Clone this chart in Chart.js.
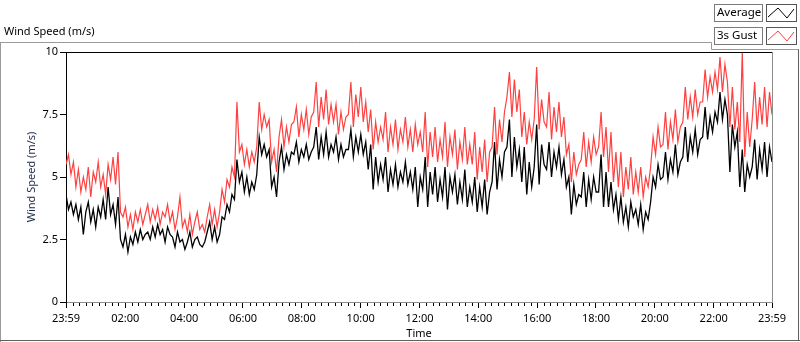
<!DOCTYPE html>
<html>
<head>
<meta charset="utf-8">
<title>Wind Speed</title>
<script src="https://cdn.jsdelivr.net/npm/chart.js@4.4.1/dist/chart.umd.min.js"></script>
<style>
    html, body { margin: 0; padding: 0; background: #fff; }
    canvas { display: block; }
</style>
</head>
<body>
<canvas id="windChart" width="800" height="342"></canvas>
<script>
// =========================
// DATA (one sample every ~5 min)
// =========================
const gustSpeed = [
    5.5, 5.9, 5.1, 5.6, 4.6, 5.3, 4.4, 5.0, 4.5, 5.4, 4.2, 5.2, 4.8, 5.6, 4.6, 5.1, 4.3, 5.5, 4.9, 5.8, 4.7,
    6.0, 3.6,
    3.4, 3.8, 3.0, 3.5, 2.9, 3.6, 3.2, 3.7, 3.1, 3.5,
    3.9, 3.2, 3.7, 3.3, 3.8, 3.1, 3.6, 3.4, 3.9, 3.2,
    3.6, 2.9, 3.4, 4.2, 3.0, 3.3, 2.8, 3.5, 2.7, 3.2, 3.6, 2.9, 3.1, 2.8,
    3.4, 3.9, 3.1, 3.7, 3.0, 3.6,
    4.5, 4.0, 4.9, 4.6, 5.4, 5.0, 8.0, 6.0,
    6.3, 5.5, 6.1, 5.4, 6.0, 5.6, 6.2,
    8.0, 6.9, 7.5, 7.0, 7.3,
    5.6, 6.1, 5.2,
    6.6, 7.3, 6.2, 7.0, 6.4, 7.1,
    7.2, 7.8, 6.6, 7.5, 6.9, 7.7, 6.7, 7.4,
    7.6, 8.8, 7.0, 8.2, 7.3, 8.5, 7.1, 7.9,
    7.2, 7.9, 6.7, 7.6, 6.9, 7.4,
    7.5, 8.8, 7.0, 8.3, 7.4, 8.6, 7.2, 8.0,
    6.8, 7.7, 6.1, 7.2, 6.4, 7.0,
    6.5, 7.6, 6.0, 7.0, 6.3, 7.3, 6.1, 6.9,
    6.4, 7.4, 6.2, 6.9, 6.0, 7.1, 6.3, 6.8,
    6.0, 7.6, 5.4, 6.8, 5.8, 7.0, 5.6, 6.5,
    5.8, 7.2, 5.4, 6.6, 5.9, 6.9, 5.3, 6.4, 5.7, 7.0, 5.5, 6.3,
    5.5, 6.8, 4.9, 6.2, 5.2, 6.5, 4.8, 6.0,
    6.2, 7.8, 5.9, 7.3, 6.4, 7.6,
    8.2, 9.2, 7.4, 8.9, 7.6, 8.5,
    6.6, 7.6, 6.3, 7.2, 6.5,
    7.3, 9.4, 6.9, 8.1, 7.2,
    7.0, 8.4, 6.5, 7.8, 6.8, 8.0, 6.6, 7.4,
    5.9, 6.3, 4.8, 6.0, 5.1, 5.5,
    5.7, 6.8, 5.4, 6.4, 5.6, 6.6, 5.9,
    6.2, 7.6, 5.8, 7.0,
    5.2, 6.8, 4.8, 6.0,
    4.6, 6.0, 4.2, 5.4, 4.5, 5.8, 4.3, 5.2,
    4.4, 5.4, 4.2, 5.0, 4.6,
    5.4, 6.6, 5.9, 7.0, 6.2,
    6.3, 7.6, 6.1, 7.2, 6.5, 7.7, 6.4, 7.0,
    7.2, 8.6, 7.3, 8.2, 7.4, 8.5, 7.5, 8.0,
    8.0, 9.3, 8.2, 9.0, 8.4, 9.2,
    8.5, 9.8, 8.4, 9.5, 8.8,
    7.0, 8.6, 6.9, 8.0,
    6.4, 10.0, 5.8, 7.6, 6.2,
    7.3, 8.8, 6.9, 8.2, 7.1, 8.6, 7.0, 8.4, 7.5
];

const avgSpeed = [
    4.3, 3.7, 4.0, 3.5, 3.9, 3.3, 3.8, 2.7, 3.6, 4.0, 3.2, 3.7, 3.0, 3.8, 3.4, 4.1, 3.3, 4.6, 3.5, 3.9, 3.1,
    4.2, 2.5,
    2.2, 2.7, 2.0, 2.6, 2.3, 2.8, 2.4, 2.9, 2.5, 2.7,
    2.8, 2.5, 3.0, 2.6, 3.1, 2.7, 2.9, 2.4, 3.0, 2.7,
    2.6, 2.2, 2.8, 2.4, 2.5, 2.1, 2.4, 2.8, 2.2, 2.5, 2.6, 2.3, 2.2, 2.4,
    2.8, 3.2, 2.5, 3.0, 2.4, 2.7,
    3.4, 3.3, 3.9, 3.6, 4.3, 4.1, 5.7, 4.8,
    5.2, 4.4, 5.0, 4.3, 4.8, 4.5, 5.1,
    6.6, 5.9, 6.3, 5.8, 6.1,
    4.6, 5.0, 4.2,
    5.6, 6.2, 5.3, 5.9, 5.5, 6.0,
    5.9, 6.4, 5.6, 6.1, 5.8, 6.3, 5.7, 6.0,
    6.2, 7.0, 5.7, 6.6, 5.9, 6.8, 5.8, 6.3,
    6.0, 6.6, 5.7, 6.3, 5.8, 6.1,
    6.1, 6.9, 5.8, 6.6, 6.0, 6.7, 5.9, 6.4,
    5.3, 6.3, 4.5, 5.8, 4.8, 5.5,
    4.9, 5.8, 4.4, 5.3, 4.7, 5.5, 4.6, 5.2,
    4.8, 5.6, 4.7, 5.2, 4.5, 5.4, 3.8, 5.0,
    4.5, 5.8, 3.8, 5.2, 4.3, 5.4, 4.0, 4.9,
    4.2, 5.4, 3.7, 5.0, 4.4, 5.1, 3.9, 4.8, 4.1, 5.3, 3.8, 4.6,
    4.0, 5.0, 3.6, 4.6, 3.8, 4.9, 3.5, 4.4,
    4.8, 6.4, 4.5, 5.7, 5.0, 6.0,
    6.2, 7.3, 5.0, 6.6, 5.4, 6.1,
    4.8, 6.2, 4.3, 5.6, 4.6,
    5.4, 7.1, 4.7, 6.3, 5.5,
    5.3, 6.4, 5.0, 6.0, 5.4, 6.2, 5.1, 5.7,
    4.6, 5.0, 3.5, 4.7, 3.9, 4.3,
    4.2, 5.2, 3.8, 4.9, 4.1, 5.0, 4.4,
    4.4, 5.9, 3.8, 5.2,
    3.8, 4.8, 3.7, 4.3,
    3.3, 4.2, 3.2, 3.8, 3.0, 4.0, 3.4, 3.7,
    3.1, 3.9, 2.9, 3.6, 3.3,
    4.0, 5.0, 4.6, 5.5, 4.9,
    5.0, 6.0, 4.9, 5.7, 5.2, 6.3, 5.1, 5.6,
    5.8, 7.0, 5.6, 6.6, 6.0, 6.9, 5.9, 6.5,
    6.6, 7.8, 6.5, 7.4, 6.8, 7.6,
    7.2, 8.4, 7.3, 8.1, 7.5,
    5.2, 7.1, 6.2, 6.8,
    4.6, 6.1, 4.4, 5.5, 5.0,
    5.4, 6.5, 4.9, 6.1, 5.3, 6.4, 5.0, 6.2, 5.6
];

// minutes after the first sample (23:59 the day before)
const dayMinutes = 1440;
const timeTicks = [0, 121, 241, 361, 481, 601, 721, 841, 961, 1081, 1201, 1321, 1440];
const timeLabels = ["23:59", "02:00", "04:00", "06:00", "08:00", "10:00", "12:00",
                    "14:00", "16:00", "18:00", "20:00", "22:00", "23:59"];
const speedTicks = [0, 2.5, 5, 7.5, 10];
const speedLabels = ["0", "2.5", "5", "7.5", "10"];

const seriesNames = ["Average", "3s Gust"];
const GUST_RED = "rgb(255, 64, 64)";
const FONT = "'Noto Sans', 'DejaVu Sans', sans-serif";

// =========================
// BUILD POINTS
// =========================
function toPoints(values) {
    const step = dayMinutes / (values.length - 1);
    return values.map((v, i) => ({ x: i * step, y: v }));
}

// =========================
// FRAME, TITLES, LEGEND
// =========================
const panelPlugin = {
    id: "panel",
    beforeDraw(chart) {
        const ctx = chart.ctx;
        ctx.save();
        ctx.fillStyle = "#fff";
        ctx.fillRect(0, 0, chart.width, chart.height);
        ctx.restore();
    },
    afterDraw(chart) {
        const ctx = chart.ctx;
        const area = chart.chartArea;
        const xs = chart.scales.x;
        ctx.save();

        // outer panel
        ctx.lineWidth = 1;
        ctx.strokeStyle = "#9a9a9a";
        ctx.beginPath();
        ctx.moveTo(0, 42.5); ctx.lineTo(711.5, 42.5);
        ctx.lineTo(711.5, 49.5); ctx.lineTo(799, 49.5);
        ctx.moveTo(0.5, 42.5); ctx.lineTo(0.5, 342);
        ctx.stroke();
        ctx.strokeStyle = "#606060";
        ctx.beginPath();
        ctx.moveTo(798.5, 49.5); ctx.lineTo(798.5, 341);
        ctx.moveTo(0, 340.5); ctx.lineTo(800, 340.5);
        ctx.stroke();

        // plot border: black top, grey right
        ctx.strokeStyle = "#000";
        ctx.beginPath();
        ctx.moveTo(area.left, area.top + 0.5); ctx.lineTo(area.right, area.top + 0.5);
        ctx.stroke();
        ctx.strokeStyle = "#8c8c8c";
        ctx.beginPath();
        ctx.moveTo(area.right + 0.5, area.top); ctx.lineTo(area.right + 0.5, area.bottom);
        ctx.stroke();

        // minor ticks on time axis
        ctx.strokeStyle = "#000";
        ctx.beginPath();
        for (let k = 0; k < timeTicks.length - 1; k++) {
            for (let j = 1; j < 9; j++) {
                const m = timeTicks[k] + j * 120 / 9;
                if (m >= timeTicks[k + 1] - 2) continue;
                const px = Math.round(xs.getPixelForValue(m)) + 0.5;
                ctx.moveTo(px, area.bottom + 1);
                ctx.lineTo(px, area.bottom + 4);
            }
        }
        ctx.stroke();

        // titles
        ctx.fillStyle = "#000";
        ctx.font = "11px " + FONT;
        ctx.textBaseline = "middle";
        ctx.textAlign = "left";
        ctx.fillText("Wind Speed (m/s)", 4, 32);
        ctx.textAlign = "center";
        ctx.fillText("Time", (area.left + area.right) / 2, 334);

        ctx.save();
        ctx.translate(32, (area.top + area.bottom) / 2);
        ctx.rotate(-Math.PI / 2);
        ctx.fillStyle = "#1f2a4a";
        ctx.fillText("Wind Speed (m/s)", 0, 0);
        ctx.restore();

        // legend
        const rows = [
            { name: seriesNames[0], color: "#000", y: 4 },
            { name: seriesNames[1], color: GUST_RED, y: 27 }
        ];
        ctx.font = "11.5px " + FONT;
        rows.forEach(r => {
            ctx.fillStyle = "#fff";
            ctx.fillRect(714, r.y, 49, 18);
            ctx.strokeStyle = "#7a7a7a";
            ctx.strokeRect(714.5, r.y + 0.5, 48, 17);
            ctx.fillStyle = "#000";
            ctx.textAlign = "left";
            ctx.fillText(r.name, 717, r.y + 9);

            ctx.fillStyle = "#fff";
            ctx.fillRect(766, r.y, 31, 18);
            ctx.strokeStyle = "#555";
            ctx.strokeRect(766.5, r.y + 0.5, 30, 17);
            ctx.strokeStyle = r.color;
            ctx.beginPath();
            ctx.moveTo(768, r.y + 13);
            ctx.lineTo(778, r.y + 4);
            ctx.lineTo(787, r.y + 14);
            ctx.lineTo(794, r.y + 5);
            ctx.stroke();
        });

        ctx.restore();
    }
};

// =========================
// RENDER CHART
// =========================
const ctx = document.getElementById("windChart").getContext("2d");

new Chart(ctx, {
    type: "line",
    data: {
        datasets: [
            {
                label: seriesNames[1],
                data: toPoints(gustSpeed),
                borderColor: GUST_RED,
                borderWidth: 1.2,
                pointRadius: 0,
                tension: 0
            },
            {
                label: seriesNames[0],
                data: toPoints(avgSpeed),
                borderColor: "#000",
                borderWidth: 1.3,
                pointRadius: 0,
                tension: 0
            }
        ]
    },
    options: {
        responsive: false,
        animation: false,
        devicePixelRatio: 1,
        layout: { padding: { top: 52, right: 28, left: 0, bottom: 0 } },
        plugins: {
            legend: { display: false },
            tooltip: { enabled: false }
        },
        scales: {
            x: {
                type: "linear",
                min: 0,
                max: dayMinutes,
                afterBuildTicks: (s) => { s.ticks = timeTicks.map(v => ({ value: v })); },
                afterFit: (s) => { s.height = 40; },
                ticks: {
                    autoSkip: false,
                    maxRotation: 0,
                    padding: 4,
                    color: "#000",
                    font: { family: FONT, size: 11 },
                    callback: (v) => timeLabels[timeTicks.indexOf(v)]
                },
                grid: {
                    drawOnChartArea: false,
                    drawTicks: true,
                    tickLength: 6,
                    tickColor: "#000"
                },
                border: { color: "#8c8c8c" }
            },
            y: {
                min: 0,
                max: 10,
                afterBuildTicks: (s) => { s.ticks = speedTicks.map(v => ({ value: v })); },
                afterFit: (s) => { s.width = 66; },
                ticks: {
                    padding: 2,
                    color: "#000",
                    font: { family: FONT, size: 11 },
                    callback: (v) => speedLabels[speedTicks.indexOf(v)]
                },
                grid: {
                    drawOnChartArea: false,
                    drawTicks: true,
                    tickLength: 6,
                    tickColor: "#000"
                },
                border: { color: "#000" }
            }
        }
    },
    plugins: [panelPlugin]
});
</script>
</body>
</html>
